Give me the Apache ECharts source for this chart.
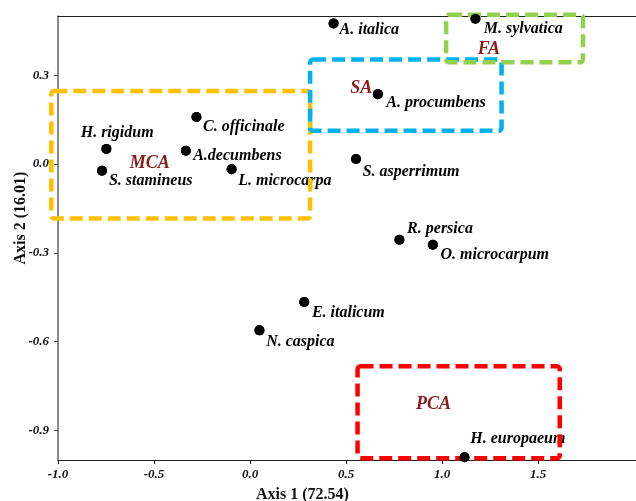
<!DOCTYPE html>
<html>
<head>
<meta charset="utf-8">
<script src="https://cdn.jsdelivr.net/npm/echarts@6/dist/echarts.min.js"></script>
<style>
html,body{margin:0;padding:0;background:#fff;}
#chart{width:636px;height:501px;}
</style>
</head>
<body>
<div id="chart"></div>
<script>
// ---- data ----
const speciesNames = ['C. officinale','H. rigidum','A.decumbens','S. stamineus','L. microcarpa','A. italica','M. sylvatica','A. procumbens','S. asperrimum','R. persica','O. microcarpum','E. italicum','N. caspica','H. europaeum'];
const axis1 = [-0.279,-0.748,-0.334,-0.771,-0.096,0.435,1.174,0.666,0.552,0.778,0.952,0.282,0.049,1.117];
const axis2 = [0.159,0.051,0.045,-0.023,-0.018,0.475,0.491,0.236,0.017,-0.256,-0.273,-0.466,-0.562,-0.991];

const groupNames = ['MCA','SA','FA','PCA'];
const groupX1 = [-1.035,0.313,1.021,0.560];
const groupX2 = [0.313,1.310,1.734,1.613];
const groupY1 = [0.247,0.353,0.504,-0.683];
const groupY2 = [-0.184,0.112,0.344,-0.994];
const groupLabelX = [-0.522,0.579,1.244,0.955];
const groupLabelY = [0.002,0.255,0.388,-0.813];

const xTicks = [-1.0,-0.5,0.0,0.5,1.0,1.5];
const yTicks = [-0.9,-0.6,-0.3,0.0,0.3];

// ---- styling (not data) ----
const labelOffsets = {
  'C. officinale':[6.6,9.7],'H. rigidum':[-25.7,-15.6],'A.decumbens':[7.3,5],'S. stamineus':[7,10],
  'L. microcarpa':[6.6,11.3],'A. italica':[6,6],'M. sylvatica':[8.3,10],'A. procumbens':[8.3,8.4],
  'S. asperrimum':[6.6,12.4],'R. persica':[7.7,-11],'O. microcarpum':[7.7,9.7],'E. italicum':[7.7,11],
  'N. caspica':[6.7,11.7],'H. europaeum':[5.7,-18]
};
const groupColors = {MCA:'#FFC000',SA:'#00B0F0',FA:'#92D050',PCA:'#FF0000'};
const SERIF = '"Liberation Serif","Times New Roman",serif';
const SYM = 10;

const chart = echarts.init(document.getElementById('chart'), null, {renderer:'canvas'});

const labelData = speciesNames.map((n,i)=>({
  name:n, value:[axis1[i],axis2[i]],
  label:{offset:[labelOffsets[n][0]-SYM/2, labelOffsets[n][1]]}
}));
const dotData = speciesNames.map((n,i)=>({name:n, value:[axis1[i],axis2[i]]}));
const boxData = groupNames.map((g,i)=>({name:g, value:[groupX1[i],groupY1[i],groupX2[i],groupY2[i],groupLabelX[i],groupLabelY[i]]}));

const option = {
  animation:false,
  backgroundColor:'#fff',
  grid:{left:58,right:0,top:16,bottom:41,containLabel:false},
  xAxis:[{
    type:'value',min:-1.0,max:2.01,interval:0.5,position:'bottom',
    axisLine:{show:true,onZero:false,lineStyle:{color:'#222',width:1}},
    axisTick:{show:true,length:4,inside:false,lineStyle:{color:'#222'},customValues:xTicks},
    axisLabel:{customValues:xTicks,margin:8,formatter:v=>v.toFixed(1),fontFamily:SERIF,fontStyle:'italic',fontWeight:'bold',fontSize:13,color:'#111'},
    splitLine:{show:false}
  },{
    type:'value',position:'top',min:-1.0,max:2.01,
    axisLine:{show:true,onZero:false,lineStyle:{color:'#222',width:1}},
    axisTick:{show:false},axisLabel:{show:false},splitLine:{show:false}
  }],
  yAxis:{
    type:'value',min:-1.0,max:0.5,
    axisLine:{show:true,onZero:false,lineStyle:{color:'#666',width:1.5}},
    axisTick:{show:true,length:4,lineStyle:{color:'#444'},customValues:yTicks},
    axisLabel:{customValues:yTicks,margin:9,formatter:v=>v.toFixed(1),fontFamily:SERIF,fontStyle:'italic',fontWeight:'bold',fontSize:13,color:'#111'},
    splitLine:{show:false}
  },
  graphic:[
    {type:'text',x:302.5,y:495,style:{text:'Axis 1 (72.54)',x:0,y:0,align:'center',verticalAlign:'middle',font:'bold 16px '+SERIF,fill:'#111'}},
    {type:'text',x:21,y:218,rotation:Math.PI/2,style:{text:'Axis 2 (16.01)',x:0,y:0,align:'center',verticalAlign:'middle',font:'bold 16px '+SERIF,fill:'#111'}}
  ],
  series:[
    {
      name:'labels',
      type:'scatter',
      xAxisIndex:0,yAxisIndex:0,
      z:1,
      clip:false,
      symbol:'circle',symbolSize:SYM,
      itemStyle:{color:'#000',opacity:1},
      label:{show:true,position:'right',distance:0,formatter:'{b}',align:'left',verticalAlign:'middle',
        fontFamily:SERIF,fontStyle:'italic',fontWeight:'bold',fontSize:16,color:'#000',opacity:1},
      emphasis:{disabled:true},
      data:labelData
    },
    {
      name:'groups',
      type:'custom',
      xAxisIndex:0,yAxisIndex:0,
      z:3,
      clip:false,
      data:boxData,
      encode:{x:[0,2],y:[1,3]},
      renderItem:function(params,api){
        const g = groupNames[params.dataIndex];
        const p1 = api.coord([api.value(0),api.value(1)]);
        const p2 = api.coord([api.value(2),api.value(3)]);
        const pl = api.coord([api.value(4),api.value(5)]);
        const c = groupColors[g];
        return {type:'group',children:[
          {type:'rect',shape:{x:Math.min(p1[0],p2[0]),y:Math.min(p1[1],p2[1]),width:Math.abs(p2[0]-p1[0]),height:Math.abs(p2[1]-p1[1]),r:3},
           style:{fill:'none',stroke:c,lineWidth:4.5,lineDash:[13,6]}},
          {type:'text',x:pl[0],y:pl[1],style:{text:g,align:'center',verticalAlign:'middle',font:'italic bold 18px '+SERIF,fill:'#8B1A1A'}}
        ]};
      }
    },
    {
      name:'dots',
      type:'scatter',
      xAxisIndex:0,yAxisIndex:0,
      z:5,
      clip:false,
      symbol:'circle',symbolSize:SYM,
      itemStyle:{color:'#000',opacity:1},
      label:{show:false},
      emphasis:{disabled:true},
      data:dotData
    }
  ]
};
chart.setOption(option);
</script>
</body>
</html>
